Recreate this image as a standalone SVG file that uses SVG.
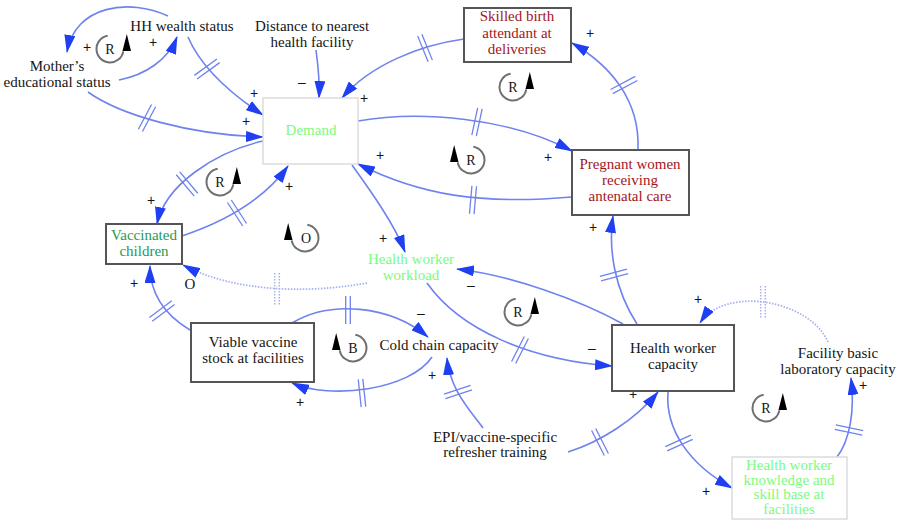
<svg xmlns="http://www.w3.org/2000/svg" xmlns:xlink="http://www.w3.org/1999/xlink" width="903" height="522" viewBox="0 0 903 522">
<style>
.lk{fill:none;stroke:#6f82ee;stroke-width:1.6;marker-end:url(#ah)}
.dot{fill:none;stroke:#a7b1f0;stroke-width:1.8;stroke-dasharray:1.5 1.5;marker-end:url(#ah)}
.dm{fill:none;stroke:#6f82ee;stroke-width:1.3}
.dmd{fill:none;stroke:#a7b1f0;stroke-width:1.5;stroke-dasharray:1.5 1.5}
.t{font-family:"Liberation Serif","Times New Roman",serif;font-size:15px;text-anchor:middle;fill:#151515}
.s{font-family:"Liberation Sans",Arial,sans-serif;font-size:14px;text-anchor:middle;fill:#151515}
.lt{font-family:"Liberation Serif","Times New Roman",serif;font-size:14px;text-anchor:middle;fill:#151515}
.box{fill:#fff;stroke:#555;stroke-width:2}
.lbox{fill:#fff;stroke:#dcdcdc;stroke-width:1.5}
.red{fill:#a3161c}
.grn{fill:#1f9a58}
.lg{fill:#7dfa7d}
.arc{fill:none;stroke:#707070;stroke-width:2}
</style>
<defs>
<marker id="ah" viewBox="0 0 18 11" refX="17" refY="5.5" markerWidth="18" markerHeight="11" markerUnits="userSpaceOnUse" orient="auto"><path d="M0,0 L18,5.5 L0,11 z" fill="#1f3ff2"/></marker>
<path id="dm" class="dm" d="M-2.3,-14 L-2.3,14 M2.3,-14 L2.3,14"/>
<path id="dmd" class="dmd" d="M-2.3,-16 L-2.3,16 M2.3,-16 L2.3,16"/>
<g id="loop"><path class="arc" d="M-2.3,-13.3 A13.5,13.5 0 1 0 13.3,2.3"/><polygon points="12.5,2 21,2 16.8,-15" fill="#000"/></g>
</defs>

<g id="connectors">
<path class="lk" d="M168,16 C130,-2 75,5 67,52"/>
<path class="lk" d="M119,80 C145,75 168,60 177,37"/>
<path class="lk" d="M188,37 C200,65 225,90 263,115"/>
<path class="lk" d="M88,92 C120,115 190,135 263,137"/>
<path class="lk" d="M316,50 C318,65 320,80 319,98"/>
<path class="lk" d="M464,39 C420,45 370,65 342,98"/>
<path class="lk" d="M358,121 C420,110 510,118 572,151"/>
<path class="lk" d="M572,197 C480,205 420,195 358,164"/>
<path class="lk" d="M638,149 C640,100 610,65 572,43"/>
<path class="lk" d="M263,141 C215,152 165,185 157,224"/>
<path class="lk" d="M182,236 C215,225 260,205 288,166"/>
<path class="lk" d="M352,165 C370,190 395,225 405,252"/>
<path class="dot" d="M367,283 C300,295 230,290 183,265"/>
<path class="lk" d="M623,324 C580,300 510,275 457,269"/>
<path class="lk" d="M427,283 C460,330 530,360 612,366"/>
<path class="lk" d="M637,324 C615,290 608,250 613,216"/>
<path class="lk" d="M292,323 C330,300 390,305 428,337"/>
<path class="lk" d="M432,357 C410,390 330,400 292,383"/>
<path class="lk" d="M190,330 C165,315 150,295 150,266"/>
<path class="lk" d="M483,428 C470,410 450,390 447,358"/>
<path class="lk" d="M568,452 C600,442 635,420 658,392"/>
<path class="lk" d="M668,392 C665,430 690,465 732,488"/>
<path class="lk" d="M837,457 C850,440 855,410 851,378"/>
<path class="dot" d="M828,342 C810,300 725,285 700,323"/>

<use href="#dm" transform="translate(207,69) rotate(54)"/>
<use href="#dm" transform="translate(147,118) rotate(28)"/>
<use href="#dm" transform="translate(425,48) rotate(-22)"/>
<use href="#dm" transform="translate(477,122) rotate(12)"/>
<use href="#dm" transform="translate(473,200) rotate(5)"/>
<use href="#dm" transform="translate(624,85) rotate(62)"/>
<use href="#dm" transform="translate(187,184) rotate(-40)"/>
<use href="#dm" transform="translate(237,213) rotate(-33)"/>
<use href="#dmd" transform="translate(277,289) rotate(0)"/>
<use href="#dm" transform="translate(520,350) rotate(27)"/>
<use href="#dm" transform="translate(614,275) rotate(75)"/>
<use href="#dm" transform="translate(348,310) rotate(0)"/>
<use href="#dm" transform="translate(362,393) rotate(-6)"/>
<use href="#dm" transform="translate(162,311) rotate(53)"/>
<use href="#dm" transform="translate(458,392) rotate(72)"/>
<use href="#dm" transform="translate(600,442) rotate(-27)"/>
<use href="#dm" transform="translate(679,443) rotate(66)"/>
<use href="#dm" transform="translate(849,430) rotate(-78)"/>
<use href="#dmd" transform="translate(763,302) rotate(0)"/>

<g id="polarities">
<text class="s" x="87" y="52">+</text>
<text class="s" x="153" y="47">+</text>
<text class="s" x="254" y="98">+</text>
<text class="s" x="246" y="126">+</text>
<text class="s" x="302" y="87">–</text>
<text class="s" x="364" y="103">+</text>
<text class="s" x="380" y="160">+</text>
<text class="s" x="548" y="162">+</text>
<text class="s" x="590" y="38">+</text>
<text class="s" x="593" y="232">+</text>
<text class="s" x="151" y="205">+</text>
<text class="s" x="289" y="191">+</text>
<text class="s" x="383" y="243">+</text>
<text class="s" x="134" y="288">+</text>
<text class="s" x="471" y="290">–</text>
<text class="s" x="421" y="318">–</text>
<text class="s" x="592" y="353">–</text>
<text class="s" x="432" y="380">+</text>
<text class="s" x="300" y="407">+</text>
<text class="s" x="698" y="304">+</text>
<text class="s" x="633" y="399">+</text>
<text class="s" x="706" y="496">+</text>
<text class="s" x="863" y="390">+</text>
<text class="t" x="190" y="289">O</text>
</g>
</g>

<g id="loops">
<g transform="translate(110,49)"><use href="#loop"/><text class="lt" x="0" y="5">R</text></g>
<g transform="translate(513,87)"><use href="#loop"/><text class="lt" x="0" y="5">R</text></g>
<g transform="translate(471,160)"><use href="#loop" transform="scale(-1,1)"/><text class="lt" x="0" y="5">R</text></g>
<g transform="translate(220,182)"><use href="#loop"/><text class="lt" x="0" y="5">R</text></g>
<g transform="translate(305,238)"><use href="#loop" transform="scale(-1,1)"/><text class="lt" x="1" y="5">O</text></g>
<g transform="translate(353,348)"><use href="#loop" transform="scale(-1,1)"/><text class="lt" x="0" y="5">B</text></g>
<g transform="translate(518,312)"><use href="#loop"/><text class="lt" x="0" y="5">R</text></g>
<g transform="translate(766,408)"><use href="#loop"/><text class="lt" x="0" y="5">R</text></g>
</g>

<g id="hh-wealth"><text class="t" x="182" y="31">HH wealth status</text></g>
<g id="mother-education"><text class="t" x="57" y="71">Mother’s</text><text class="t" x="57" y="87">educational status</text></g>
<g id="distance"><text class="t" x="312" y="31">Distance to nearest</text><text class="t" x="312" y="47">health facility</text></g>
<g id="demand"><rect class="lbox" x="263" y="98" width="95" height="66"/><text class="t lg" x="311" y="135">Demand</text></g>
<g id="skilled-birth"><rect class="box" x="464" y="8" width="107" height="54"/><text class="t red" x="517" y="21">Skilled birth</text><text class="t red" x="517" y="37.5">attendant at</text><text class="t red" x="517" y="54">deliveries</text></g>
<g id="pregnant-women"><rect class="box" x="572" y="150" width="117" height="65"/><text class="t red" x="630" y="169">Pregnant women</text><text class="t red" x="630" y="185">receiving</text><text class="t red" x="630" y="201">antenatal care</text></g>
<g id="vaccinated-children"><rect class="box" x="106" y="224" width="76" height="40"/><text class="t grn" x="144" y="240">Vaccinated</text><text class="t grn" x="144" y="256">children</text></g>
<g id="hw-workload"><text class="t lg" x="411" y="264">Health worker</text><text class="t lg" x="411" y="280">workload</text></g>
<g id="viable-vaccine"><rect class="box" x="191" y="323" width="123" height="59"/><text class="t" x="253" y="347">Viable vaccine</text><text class="t" x="253" y="363">stock at facilities</text></g>
<g id="cold-chain"><text class="t" x="439" y="350">Cold chain capacity</text></g>
<g id="hw-capacity"><rect class="box" x="612" y="325" width="122" height="66"/><text class="t" x="673" y="353">Health worker</text><text class="t" x="673" y="369">capacity</text></g>
<g id="lab-capacity"><text class="t" x="838" y="358">Facility basic</text><text class="t" x="838" y="374">laboratory capacity</text></g>
<g id="epi-training"><text class="t" x="495" y="442">EPI/vaccine-specific</text><text class="t" x="495" y="457">refresher training</text></g>
<g id="hw-knowledge"><rect class="lbox" x="732" y="457" width="115" height="62"/><text class="t lg" x="789" y="470">Health worker</text><text class="t lg" x="789" y="484.5">knowledge and</text><text class="t lg" x="789" y="499">skill base at</text><text class="t lg" x="789" y="513.5">facilities</text></g>
</svg>
